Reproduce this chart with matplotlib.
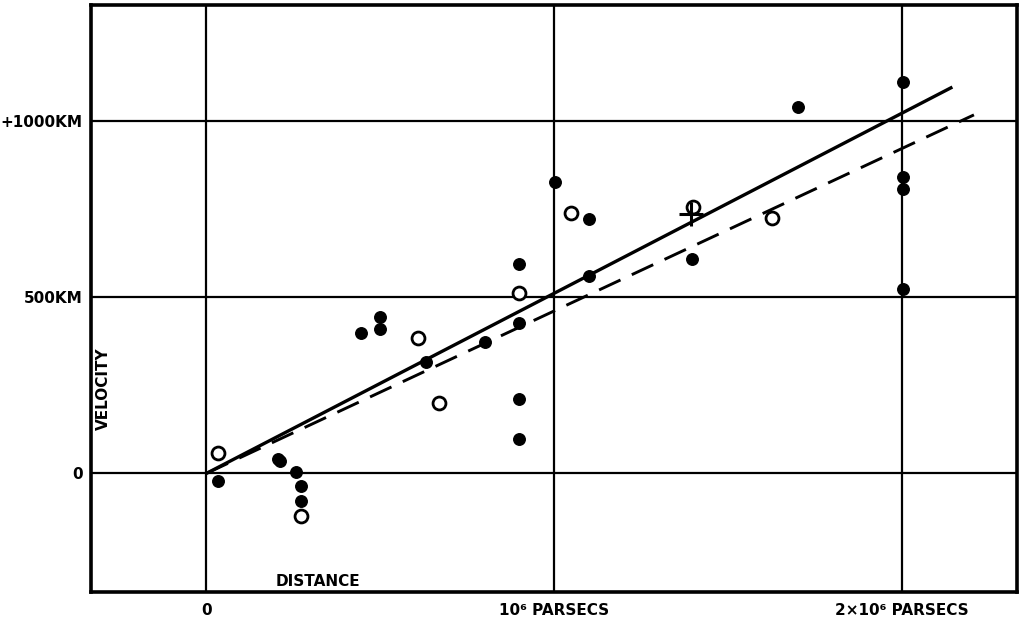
import matplotlib
matplotlib.use("Agg")
import matplotlib.pyplot as plt

# ---- data (distance in 10^6 parsecs, velocity in km/s) ----
filled_x = [0.034, 0.205, 0.212, 0.258, 0.271, 0.271, 0.445, 0.499, 0.499, 0.632,
            0.801, 0.900, 0.900, 0.900, 0.900, 1.003, 1.100, 1.100, 1.396, 1.702,
            2.005, 2.005, 2.005, 2.005]
filled_y = [-22, 42, 35, 5, -36, -79, 398, 443, 410, 317,
            374, 594, 426, 211, 97, 826, 722, 561, 609, 1041,
            1110, 841, 807, 524]

open_x = [0.034, 0.271, 0.610, 0.670, 0.900, 1.049, 1.400, 1.628]
open_y = [57, -120, 383, 199, 513, 740, 757, 724]

cross_x = [1.393]
cross_y = [736]

solid_x = [0.0, 2.146]
solid_y = [0, 1097]
dashed_x = [0.0, 2.208]
dashed_y = [0, 1018]

x_ticks = [0, 1, 2]
x_ticklabels = ["0", "10\u2076 PARSECS", "2\u00d710\u2076 PARSECS"]
y_ticks = [0, 500, 1000]
y_ticklabels = ["0", "500KM", "+1000KM"]

plt.rcParams['lines.scale_dashes'] = False
plt.rcParams['font.family'] = ['DejaVu Sans']

fig = plt.figure(figsize=(10.24, 6.18), dpi=100)
ax = fig.add_axes([0.0886, 0.0426, 0.9046, 0.9493])

ax.set_xlim(-0.333, 2.332)
ax.set_ylim(-336, 1330)

# grid lines
for xv in x_ticks:
    ax.axvline(xv, color='black', lw=1.6, zorder=1)
for yv in y_ticks:
    ax.axhline(yv, color='black', lw=1.6, zorder=1)

# fit lines
ax.plot(solid_x, solid_y, color='black', lw=2.4, solid_capstyle='butt', zorder=2)
ax.plot(dashed_x, dashed_y, color='black', lw=2.1, dashes=[17, 9],
        dash_capstyle='butt', zorder=2)

# points
ax.plot(filled_x, filled_y, 'o', color='black', ms=8.3, mec='black', zorder=3,
        linestyle='none')
ax.plot(open_x, open_y, 'o', mfc='white', mec='black', ms=9.3, mew=2.0, zorder=4,
        linestyle='none')
ax.plot(cross_x, cross_y, '+', color='black', ms=17, mew=2.2, zorder=5,
        linestyle='none')

# ticks
ax.set_xticks(x_ticks)
ax.set_xticklabels(x_ticklabels, fontsize=11, fontweight='bold')
ax.set_yticks(y_ticks)
ax.set_yticklabels(y_ticklabels, fontsize=11, fontweight='bold')
ax.tick_params(axis='both', length=0)
ax.tick_params(axis='x', pad=8)
ax.tick_params(axis='y', pad=6)

for sp in ax.spines.values():
    sp.set_linewidth(2.6)
    sp.set_color('black')

# axis titles inside plot
fig.text(103 / 1024, 1 - 389 / 618, "VELOCITY", rotation=90,
         ha='center', va='center', fontsize=11, fontweight='bold')
fig.text(317.7 / 1024, 1 - 581.7 / 618, "DISTANCE",
         ha='center', va='center', fontsize=11, fontweight='bold')

fig.savefig("out.png", dpi=100, facecolor='white')
